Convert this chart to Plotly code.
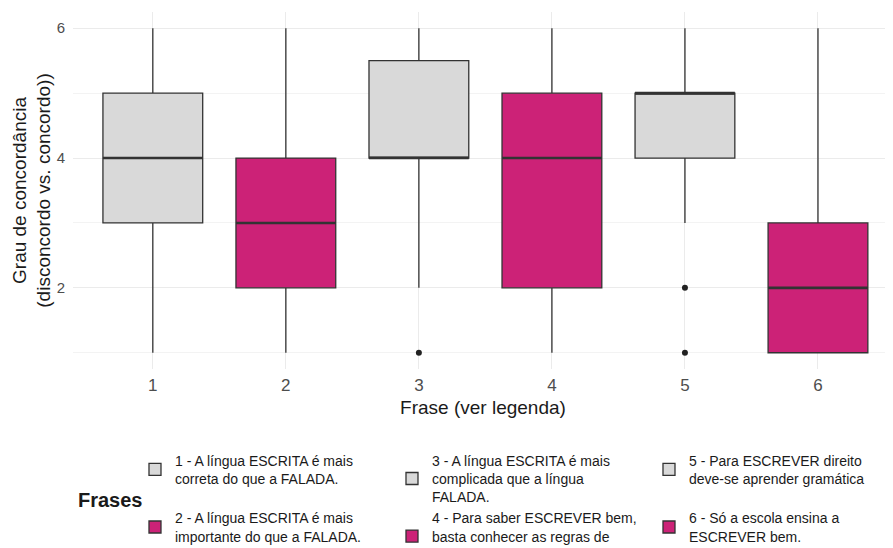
import plotly.graph_objects as go

frases = [1, 2, 3, 4, 5, 6]
labels = [
    "1 - A língua ESCRITA é mais<br>correta do que a FALADA.",
    "2 - A língua ESCRITA é mais<br>importante do que a FALADA.",
    "3 - A língua ESCRITA é mais<br>complicada que a língua<br>FALADA.",
    "4 - Para saber ESCREVER bem,<br>basta conhecer as regras de<br>ortografia.",
    "5 - Para ESCREVER direito<br>deve-se aprender gramática",
    "6 - Só a escola ensina a<br>ESCREVER bem.",
]
lower = [1, 1, 2, 1, 3, 1]
q1 = [3, 2, 4, 2, 4, 1]
median = [4, 3, 4, 4, 5, 2]
q3 = [5, 4, 5.5, 5, 5, 3]
upper = [6, 6, 6, 6, 6, 6]
outliers = [[], [], [1], [], [2, 1], []]
fills = ["#D9D9D9", "#CC2277", "#D9D9D9", "#CC2277", "#D9D9D9", "#CC2277"]
legend_rank = [1, 4, 2, 5, 3, 6]

BOXW = 0.75
fig = go.Figure()
for i, f in enumerate(frases):
    fig.add_trace(go.Box(
        x=[f], q1=[q1[i]], median=[median[i]], q3=[q3[i]],
        lowerfence=[lower[i]], upperfence=[upper[i]],
        width=BOXW, fillcolor=fills[i],
        line=dict(color="#333333", width=1.3),
        whiskerwidth=0, boxpoints=False,
        name=labels[i], legendrank=legend_rank[i],
    ))
    # thicker median line (ggplot style)
    fig.add_trace(go.Scatter(
        x=[f - BOXW / 2, f + BOXW / 2], y=[median[i], median[i]],
        mode="lines", line=dict(color="#333333", width=2.6),
        showlegend=False, hoverinfo="skip",
    ))
    if outliers[i]:
        fig.add_trace(go.Scatter(
            x=[f] * len(outliers[i]), y=outliers[i], mode="markers",
            marker=dict(color="#222222", size=6),
            showlegend=False, hoverinfo="skip",
        ))

fig.update_layout(
    width=885, height=540,
    margin=dict(l=65, r=0, t=4, b=179, autoexpand=False),
    paper_bgcolor="white", plot_bgcolor="white",
    font=dict(family="Liberation Sans, Arial, sans-serif", color="#333333"),
    showlegend=True,
    legend=dict(
        orientation="h", x=0.0756, xanchor="left", y=-0.212, yanchor="top",
        entrywidth=212, entrywidthmode="pixels",
        font=dict(size=14, color="#1a1a1a"), itemwidth=30,
        traceorder="normal", tracegroupgap=0,
    ),
    annotations=[dict(
        text="<b>Frases</b>", x=0.004, xref="paper", y=-0.367, yref="paper",
        xanchor="left", yanchor="middle", showarrow=False,
        font=dict(size=20, color="#1a1a1a"),
    )],
)
fig.update_xaxes(
    range=[0.4, 6.564], tickvals=frases, ticktext=[str(f) for f in frases],
    showgrid=True, gridcolor="#EBEBEB", gridwidth=1, zeroline=False,
    showline=False, ticks="", tickfont=dict(size=17, color="#4D4D4D"),
    ticklabelstandoff=4,
    title=dict(text="Frase (ver legenda)", font=dict(size=19, color="#1a1a1a"), standoff=6),
)
fig.update_yaxes(
    range=[0.75, 6.25], tick0=0, dtick=2,
    showgrid=True, gridcolor="#EBEBEB", gridwidth=1, zeroline=False,
    minor=dict(dtick=1, tick0=0, showgrid=True, gridcolor="#F3F3F3", gridwidth=1),
    showline=False, ticks="", tickfont=dict(size=15, color="#4D4D4D"),
    ticklabelstandoff=7,
    title=dict(text="Grau de concordância<br>(disconcordo vs. concordo))",
               font=dict(size=19, color="#1a1a1a"), standoff=0),
)

fig.write_html("out.html")
